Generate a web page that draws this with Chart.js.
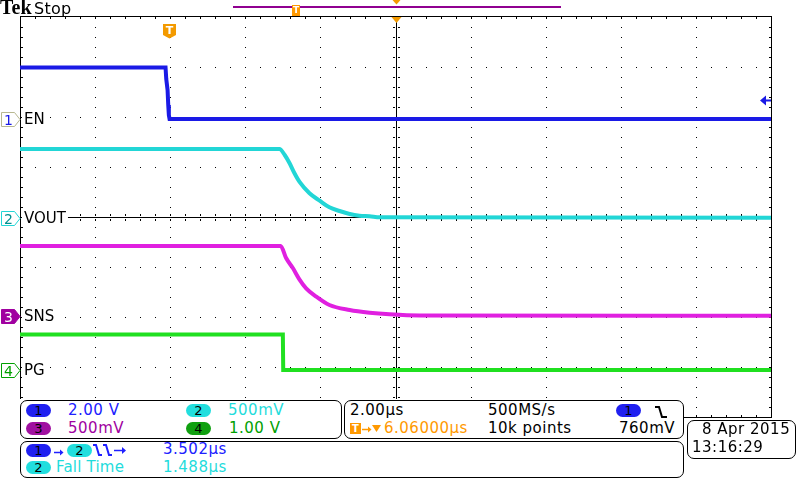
<!DOCTYPE html>
<html><head><meta charset="utf-8">
<script src="https://cdn.jsdelivr.net/npm/chart.js@4/dist/chart.umd.min.js"></script>
<style>
html,body{margin:0;padding:0;background:#fff;}
#wrap{position:relative;width:800px;height:480px;overflow:hidden;font-family:"DejaVu Sans",sans-serif;}
#c{position:absolute;left:0;top:0;}
</style></head>
<body><div id="wrap"><canvas id="c" width="800" height="480"></canvas></div>
<script>
// ---------- data ----------
const X_DIVS = 10, Y_DIVS = 8;
const TIME_PER_DIV_US = 2.0;
const CENTER_TIME_US = 6.06;          // horizontal position (trigger -> centre)
const TRIG_LEVEL_V = 0.76;            // channel 1 trigger level

const CHANNEL_NAMES = ['EN', 'VOUT', 'SNS', 'PG'];
const CHANNEL_NUMS  = ['1', '2', '3', '4'];
const VOLTS_PER_DIV = [2.0, 0.5, 0.5, 1.0];
const GROUND_DIV    = [1.96, -0.02, -1.97, -3.05];
const TRACE_COLORS  = ['#1a1ae6', '#22d6d6', '#e020e0', '#20e020'];
const MARKER_FILL   = ['#ffffff', '#ffffff', '#a000a0', '#ffffff'];
const MARKER_STROKE = ['#b8b890', '#22d6d6', '#a000a0', '#00a000'];
const MARKER_TEXT   = ['#1a1ae6', '#009090', '#ffffff', '#00a000'];

// time in µs relative to trigger, values in volts
const EN_T = [-3.94, -0.064, -0.045, -0.01, 0.008, 0.024, 0.043, 16.06];
const EN_V = [2.06, 2.06, 1.6, 1.16, 0.56, 0.16, 0.0, 0.0];

const VOUT_T = [-3.94, 2.97, 3.11, 3.24, 3.37, 3.50, 3.77, 4.04, 4.30, 4.57, 4.84, 5.10, 5.37, 5.64, 16.06];
const VOUT_V = [0.69, 0.69, 0.63, 0.547, 0.447, 0.363, 0.247, 0.173, 0.107, 0.07, 0.04, 0.023, 0.017, 0.007, 0.003];

const SNS_T = [-3.94, 3.0, 3.15, 3.33, 3.50, 3.68, 3.95, 4.30, 4.84, 5.37, 5.90, 6.70, 16.06];
const SNS_V = [0.695, 0.695, 0.572, 0.472, 0.362, 0.272, 0.188, 0.105, 0.055, 0.028, 0.012, 0.0, -0.002];

const PG_T = [-3.94, 3.06, 3.07, 16.06];
const PG_V = [0.70, 0.70, -0.01, -0.01];

const X_MIN = CENTER_TIME_US - X_DIVS / 2 * TIME_PER_DIV_US;
const X_MAX = CENTER_TIME_US + X_DIVS / 2 * TIME_PER_DIV_US;

// ---------- build datasets ----------
const SERIES = [[EN_T, EN_V], [VOUT_T, VOUT_V], [SNS_T, SNS_V], [PG_T, PG_V]];
const datasets = SERIES.map(([T, V], i) => ({
  label: CHANNEL_NAMES[i],
  data: T.map((t, k) => ({ x: t, y: V[k] / VOLTS_PER_DIV[i] + GROUND_DIV[i] })),
  borderColor: TRACE_COLORS[i],
  borderWidth: 4,
  pointRadius: 0,
  fill: false,
  tension: 0,
  cubicInterpolationMode: (i === 1 || i === 2) ? 'monotone' : 'default'
}));

const graticule = {
  id: 'graticule',
  beforeDatasetsDraw(chart) {
    const { ctx, scales: { x, y } } = chart;
    const px = v => Math.round(x.getPixelForValue(v));
    const py = v => Math.round(y.getPixelForValue(v));
    ctx.save();
    ctx.fillStyle = '#000';
    const L = px(X_MIN), R = px(X_MAX), T = py(Y_DIVS / 2), B = py(-Y_DIVS / 2);
    const cx = px(CENTER_TIME_US), cy = py(0);
    ctx.fillRect(L, T - 1, R - L + 1, 1);
    ctx.fillRect(L, B, R - L + 1, 1);
    ctx.fillRect(L, T - 1, 1, B - T + 2);
    ctx.fillRect(R, T - 1, 1, B - T + 2);
    for (let j = 1; j < Y_DIVS * 5; j++) {
      const Y = py(-Y_DIVS / 2 + j * 0.2);
      ctx.fillRect(L + 1, Y, 2, 1); ctx.fillRect(R - 2, Y, 2, 1);
      ctx.fillRect(cx - 3, Y, 2, 1); ctx.fillRect(cx + 2, Y, 2, 1);
      for (let k = 1; k < X_DIVS; k++) {
        if (k === X_DIVS / 2) continue;
        ctx.fillRect(px(X_MIN + k * TIME_PER_DIV_US), Y, 1, 1);
      }
    }
    for (let i = 1; i < X_DIVS * 5; i++) {
      const X = px(X_MIN + i * TIME_PER_DIV_US / 5);
      ctx.fillRect(X, T, 1, 2); ctx.fillRect(X, B - 2, 1, 2);
      ctx.fillRect(X, cy - 3, 1, 2); ctx.fillRect(X, cy + 2, 1, 2);
      for (let k = 1; k < Y_DIVS; k++) {
        if (k === Y_DIVS / 2) continue;
        ctx.fillRect(X, py(-Y_DIVS / 2 + k), 1, 1);
      }
    }
    ctx.fillRect(cx, T, 1, B - T);
    ctx.fillRect(L, cy, R - L, 1);
    ctx.restore();
  }
};

const markers = {
  id: 'markers',
  afterDatasetsDraw(chart) {
    const { ctx, chartArea: a, scales: { x, y } } = chart;
    ctx.save();
    CHANNEL_NAMES.forEach((name, i) => {
      const gy = Math.round(y.getPixelForValue(GROUND_DIV[i]));
      ctx.font = '15px "DejaVu Sans"';
      ctx.textAlign = 'left'; ctx.textBaseline = 'alphabetic';
      const w = ctx.measureText(name).width;
      ctx.fillStyle = '#fff'; ctx.fillRect(a.left + 2, gy - 8, w + 4, 16);
      ctx.fillStyle = '#000'; ctx.fillText(name, a.left + 4, gy + 5);
      const c = gy + 0.5;
      ctx.beginPath();
      ctx.moveTo(1.5, c - 7); ctx.lineTo(14.5, c - 7); ctx.lineTo(20, c);
      ctx.lineTo(14.5, c + 7); ctx.lineTo(1.5, c + 7); ctx.closePath();
      ctx.fillStyle = MARKER_FILL[i]; ctx.fill();
      ctx.strokeStyle = MARKER_STROKE[i]; ctx.lineWidth = 1; ctx.stroke();
      ctx.fillStyle = MARKER_TEXT[i]; ctx.font = '14px "DejaVu Sans"';
      ctx.textAlign = 'center'; ctx.fillText(CHANNEL_NUMS[i], 8.5, c + 5.5);
    });
    // trigger position marker "T"
    const tx = Math.round(x.getPixelForValue(0)) + 1;
    ctx.fillStyle = '#f39a00';
    ctx.beginPath();
    ctx.moveTo(tx - 6, 24); ctx.lineTo(tx + 7, 24); ctx.lineTo(tx + 7, 35);
    ctx.lineTo(tx + 0.5, 38.5); ctx.lineTo(tx - 6, 35); ctx.closePath(); ctx.fill();
    ctx.fillStyle = '#fff'; ctx.font = 'bold 11px "DejaVu Sans"'; ctx.textAlign = 'center';
    ctx.fillText('T', tx + 0.5, 34);
    // horizontal centre (expansion) markers
    const cx = Math.round(x.getPixelForValue(CENTER_TIME_US)) + 0.5;
    ctx.fillStyle = '#f39a00';
    ctx.beginPath(); ctx.moveTo(cx - 5, a.top); ctx.lineTo(cx + 5, a.top); ctx.lineTo(cx, a.top + 6); ctx.closePath(); ctx.fill();
    ctx.beginPath(); ctx.moveTo(cx - 4, 0); ctx.lineTo(cx + 4, 0); ctx.lineTo(cx, 4.5); ctx.closePath(); ctx.fill();
    // channel 1 trigger level arrow
    const yl = Math.round(y.getPixelForValue(TRIG_LEVEL_V / VOLTS_PER_DIV[0] + GROUND_DIV[0])) + 0.5;
    ctx.fillStyle = TRACE_COLORS[0];
    ctx.fillRect(a.right - 7, yl - 1, 7, 2);
    ctx.beginPath(); ctx.moveTo(a.right - 11, yl); ctx.lineTo(a.right - 5, yl - 5); ctx.lineTo(a.right - 5, yl + 5); ctx.closePath(); ctx.fill();
    ctx.restore();
  }
};

new Chart(document.getElementById('c'), {
  type: 'line',
  data: { datasets },
  options: {
    responsive: false, animation: false, devicePixelRatio: 1,
    layout: { padding: { left: 20, right: 29, top: 17, bottom: 63 } },
    scales: {
      x: { type: 'linear', min: X_MIN, max: X_MAX, display: false },
      y: { min: -Y_DIVS / 2, max: Y_DIVS / 2, display: false }
    },
    plugins: { legend: { display: false }, tooltip: { enabled: false }, title: { display: false } },
    elements: { point: { radius: 0 } }
  },
  plugins: [graticule, markers]
});

// ---------- HTML readout panel ----------
const wrap = document.getElementById('wrap');
function el(css, text) {
  const e = document.createElement('div');
  e.style.cssText = 'position:absolute;' + css;
  if (text != null) e.textContent = text;
  wrap.appendChild(e); return e;
}
function txt(x, base, s, color, size = 15, ls = 0.5) {
  return el(`left:${x}px;top:${(base - 0.846 * size).toFixed(1)}px;font:${size}px/${size}px "DejaVu Sans",sans-serif;color:${color};white-space:pre;letter-spacing:${ls}px;`, s);
}
function pill(x, y, bg, s) {
  return el(`left:${x}px;top:${y}px;width:25px;height:13px;border-radius:7px;background:${bg};color:#000;font:13px/13px "DejaVu Sans",sans-serif;text-align:center;`, s);
}
function box(x, y, w, h) {
  el(`left:${x}px;top:${y}px;width:${w}px;height:${h}px;border:1px solid #000;border-radius:7px;background:#fff;box-sizing:border-box;`);
}
function svg(x, y, w, h, inner) {
  const d = el(`left:${x}px;top:${y}px;width:${w}px;height:${h}px;`);
  d.innerHTML = `<svg width="${w}" height="${h}" xmlns="http://www.w3.org/2000/svg">${inner}</svg>`;
}

const BLUE = '#2020ff', CYAN = '#1fdcdc', PURP = '#a000a0', GREEN = '#00a000', ORANGE = '#ff9900';
const PBLUE = '#2020f0', PCYAN = '#22dede', PPURP = '#a010a0', PGREEN = '#10a010';

// header
txt(0, 14, 'Tek', '#000', 20, 0).style.font = 'bold 20px/20px "Liberation Serif",serif';
txt(34, 14, 'Stop', '#000', 16, 0.3);
el('left:233px;top:6px;width:328px;height:1.5px;background:#900090;');
el(`left:292px;top:5px;width:8px;height:11px;background:${ORANGE};color:#fff;font:bold 9px/11px "DejaVu Sans",sans-serif;text-align:center;`, 'T');

// cover below graticule
el('left:0;top:399px;width:684px;height:81px;background:#fff;');

// box 1: vertical settings
box(20, 400, 322, 39);
pill(26, 404, PBLUE, '1');  txt(68, 416, '2.00 V', BLUE);
pill(186, 404, PCYAN, '2'); txt(228, 416, '500mV', CYAN);
pill(26, 422, PPURP, '3');  txt(68, 433.5, '500mV', PURP);
pill(186, 422, PGREEN, '4'); txt(229, 433.5, '1.00 V', GREEN);

// box 2: timebase / trigger
box(344, 400, 340, 39);
txt(350, 416, '2.00µs', '#000');
txt(488, 416, '500MS/s', '#000');
pill(616, 404, PBLUE, '1');
svg(654, 404, 14, 14, '<path d="M1,2 H5 L8,12 H13" fill="none" stroke="#000" stroke-width="2"/>');
el(`left:350px;top:423px;width:11px;height:11px;background:${ORANGE};color:#fff;font:bold 10px/11px "DejaVu Sans",sans-serif;text-align:center;`, 'T');
svg(361, 422, 22, 14, `<path d="M1,6.5 H8" stroke="${ORANGE}" stroke-width="1.5"/><polygon points="7,3.5 10.5,6.5 7,9.5" fill="${ORANGE}"/><polygon points="11,2 20,2 15.5,9" fill="${ORANGE}"/>`);
txt(384, 433.5, '6.06000µs', ORANGE);
txt(488, 433.5, '10k points', '#000');
txt(619, 433.5, '760mV', '#000');

// box 3: measurements
box(20, 441, 664, 37);
pill(26, 444, PBLUE, '1');
svg(53, 444, 12, 13, `<path d="M1,6.5 H8" stroke="${BLUE}" stroke-width="1.5"/><polygon points="7,3.5 10.5,6.5 7,9.5" fill="${BLUE}"/>`);
pill(67, 444, PCYAN, '2');
svg(92, 443, 38, 15, `<path d="M1,2 H4 L7,12 H10 M11,2 H14 L17,12 H20" fill="none" stroke="${BLUE}" stroke-width="2"/><path d="M22,7.5 H31" stroke="${BLUE}" stroke-width="1.5"/><polygon points="30,4 34,7.5 30,11" fill="${BLUE}"/>`);
txt(163, 455, '3.502µs', BLUE);
pill(26, 461, PCYAN, '2');
txt(56, 472.5, 'Fall Time', CYAN, 15, 0.2);
txt(163, 472.5, '1.488µs', CYAN);

// date box
box(687, 420, 109, 39);
txt(702, 435, '8 Apr 2015', '#000');
txt(692, 453, '13:16:29', '#000');
</script>
</body></html>
